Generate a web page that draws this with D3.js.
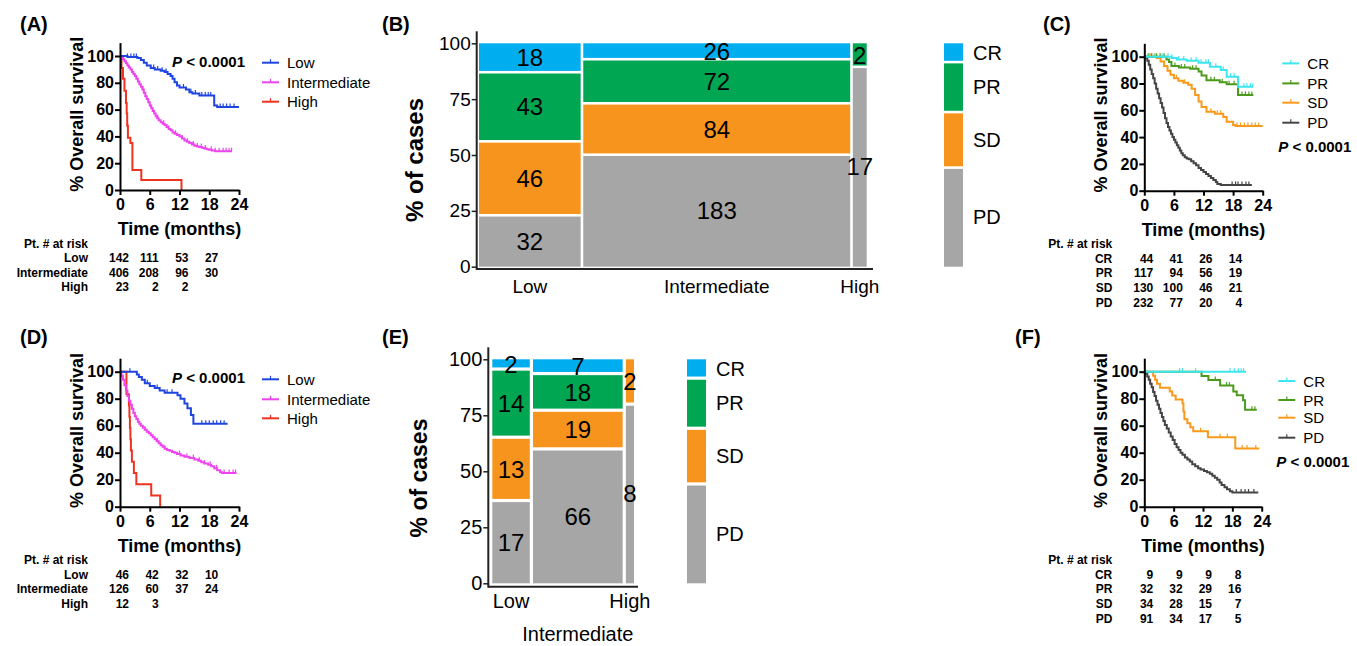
<!DOCTYPE html>
<html><head><meta charset="utf-8">
<script src="https://cdn.jsdelivr.net/npm/d3@7"></script>
<style>body{margin:0;background:#fff}svg{display:block}</style>
</head><body>
<svg id="chart" width="1357" height="646"></svg>
<script>
// ---------------- DATA ----------------
const MONTHS = [0, 6, 12, 18, 24];
const RISK_MONTHS = [0, 6, 12, 18];
const SURV_TICKS = [0, 20, 40, 60, 80, 100];
const PCT_TICKS = [0, 25, 50, 75, 100];
const RISK_GROUPS = ["Low", "Intermediate", "High"];
const RESPONSES = ["CR", "PR", "SD", "PD"];
const P_TEXT = "< 0.0001";

// Panel A: KM by risk group
const A_low = [[0,100],[1.5,99.3],[3.5,98.5],[4.2,97],[4.8,95],[5.4,93],[6.2,91],[7,90],[8.2,89],[9,88],[9.6,86.5],[10.2,85],[10.6,83],[11,80.5],[11.5,78],[12,76.5],[13.3,75],[14,73],[14.6,72],[16,70.5],[19,63],[19.6,62],[24,62]];
const A_low_cens = [1.5,2.2,2.8,3.3,6.8,7.6,8.5,9.3,12.8,14.3,15.2,16.5,17.2,17.8,18.3,20.2,20.8,21.5,22.2,23.0];
const A_int = [[0,100],[0.3,99],[0.6,97.5],[0.9,96],[1.2,94.5],[1.5,93],[1.8,91.5],[2.1,90],[2.4,88],[2.7,86.5],[3,85],[3.3,83],[3.6,81],[3.9,79],[4.2,77],[4.5,75],[4.8,72.5],[5.1,70],[5.4,68],[5.7,65.5],[6,63],[6.3,61],[6.6,59],[6.9,57],[7.2,55],[7.5,53.5],[7.8,52],[8.2,50.5],[8.6,49.5],[9,48.5],[9.4,47],[9.8,45.5],[10.2,44.5],[10.6,43],[11,42],[11.5,41],[12,40],[12.5,38.5],[13,37],[13.5,36],[14,35],[14.5,34],[15,33],[15.5,32.5],[16,32],[16.5,31.5],[17,31],[17.5,30.5],[18,30],[18.5,29.5],[19.2,29],[22.6,29]];
const A_int_cens = [4.6,6.3,7.6,8.8,9.8,11.2,12.5,13.6,14.8,15.6,16.4,17.2,18.4,19.2,20.0,20.8,21.4,22.0,22.5];
const A_high = [[0,100],[0.3,91],[0.6,83],[0.9,74],[1.2,65],[1.35,57],[1.45,48],[1.6,39],[2.1,35],[2.5,15],[4.3,7.5],[12.4,0]];
const A_high_cens = [];
const A_risk_low = [142, 111, 53, 27];
const A_risk_int = [406, 208, 96, 30];
const A_risk_high = [23, 2, 2];

// Panel B: mosaic, response by risk group
const B_CR = [18, 26, 0];
const B_PR = [43, 72, 2];
const B_SD = [46, 84, 0];
const B_PD = [32, 183, 17];

// Panel C: KM by response
const C_cr = [[0,100],[5.5,99],[6.6,98],[8.6,97],[11,95.5],[13.3,92.5],[15.5,90],[16.7,85],[19,77.5],[22.1,77.5]];
const C_cr_cens = [1.0,2.2,3.6,4.8,5.6,7.0,8.0,9.5,10.5,11.5,12.5,13.0,14.5,16,17.5,18.2,20.2,20.8,21.5,22.0];
const C_pr = [[0,100],[4.5,98],[5,96],[5.5,93],[7,92],[9.3,91],[11,89],[11.6,86],[12.6,82.5],[15.3,81],[16.7,79.5],[19,71.5],[22.1,71.5]];
const C_pr_cens = [0.8,1.5,2.5,3.2,4.0,6.2,7.5,8.2,9.8,10.5,13.5,14.2,15.8,17.2,18.2,19.8,20.5,21.2,21.8];
const C_sd = [[0,100],[2.5,99],[3.3,96.5],[4,93],[4.7,89.5],[5.3,86.5],[6,84],[6.9,82],[7.9,80.5],[8.9,79],[9.6,76],[10.3,71.5],[11,66.5],[11.6,62.5],[12.6,59],[14.3,57.5],[16,55],[16.7,51.5],[18,49],[18.5,48.3],[24,48.3]];
const C_sd_cens = [1.2,2.0,6.5,8.2,13.5,14.8,15.5,18.8,19.5,20.3,21.0,21.8,22.5,23.2];
const C_pd = [[0,100],[0.3,99],[0.6,97],[0.9,94],[1.2,90.5],[1.5,87],[1.8,84],[2.1,80],[2.4,76],[2.7,72.5],[3,69],[3.3,65.5],[3.6,62],[3.9,58],[4.2,54],[4.5,50.5],[4.8,47.5],[5.1,45],[5.4,42.5],[5.7,40],[6,38],[6.3,36],[6.6,34],[6.9,32],[7.2,30],[7.5,28],[7.8,26.5],[8.2,25],[8.6,24],[9,23.5],[9.5,22],[10,20.5],[10.5,19],[11,17],[11.5,15.5],[12,14],[12.5,12.5],[13,11],[13.5,9.5],[14,8],[14.5,6.5],[14.8,5],[15.5,4.3],[21.8,4.3]];
const C_pd_cens = [17.8,18.5,19.0,19.8,20.6,21.2];
const C_risk_cr = [44, 41, 26, 14];
const C_risk_pr = [117, 94, 56, 19];
const C_risk_sd = [130, 100, 46, 21];
const C_risk_pd = [232, 77, 20, 4];

// Panel D: KM by risk group (validation)
const D_low = [[0,100],[3.4,98],[3.8,96],[4.4,94],[5,91.5],[6,89.5],[7,88],[8,86],[9,84.5],[11.6,82.5],[12.2,80],[13,76.5],[13.6,73],[14.3,68],[14.8,61.5],[21.7,61.5]];
const D_low_cens = [2.0,5.5,7.5,9.5,10.5,16.5,17.3,18.0,18.8,19.5,20.3,21.0];
const D_int = [[0,100],[0.3,97],[0.6,94],[0.9,90],[1.2,86],[1.5,82],[1.8,78.5],[2.1,75.5],[2.4,72.5],[2.7,69.5],[3,67],[3.3,65],[3.6,63],[3.9,61.5],[4.2,60],[4.6,58.5],[5,57],[5.4,55.5],[5.8,54.5],[6.2,53],[6.6,51.5],[7,50],[7.4,48.5],[7.8,47],[8.2,45.5],[8.6,44.5],[9,43],[9.5,42],[10,41.5],[10.5,40.5],[11,40],[11.5,39],[12.2,38],[13,37],[14,36],[15,35],[15.8,34],[16.4,33],[17,32],[17.8,31],[18.4,30],[19,28.5],[19.6,27],[20.2,25.5],[20.6,25],[23.5,25]];
const D_int_cens = [5.0,7.5,9.0,12.0,13.5,14.8,16.0,17.0,18.2,19.5,21.0,22.0,22.8,23.3];
const D_high = [[0,100],[1.3,83.3],[1.8,75],[1.9,66.7],[2.0,58.3],[2.1,50],[2.2,41.7],[2.4,33.3],[2.8,25],[3.3,16.7],[6.3,8.3],[8.1,0]];
const D_high_cens = [];
const D_risk_low = [46, 42, 32, 10];
const D_risk_int = [126, 60, 37, 24];
const D_risk_high = [12, 3];

// Panel E: mosaic (validation)
const E_CR = [2, 7, 0];
const E_PR = [14, 18, 0];
const E_SD = [13, 19, 2];
const E_PD = [17, 66, 8];

// Panel F: KM by response (validation)
const F_cr = [[0,100],[20.8,100]];
const F_cr_cens = [7.2,7.8,10.5,17.5,18.4,19.2,19.8,20.3];
const F_pr = [[0,100],[11.7,96.9],[13.1,93.8],[15.5,89.7],[18.2,85.4],[18.9,82.5],[20.2,78.8],[20.6,71.8],[23,71.8]];
const F_pr_cens = [14.5,16.8,17.4,22.0,22.6];
const F_sd = [[0,100],[1.8,97],[2.2,94],[2.6,91],[3.2,88.2],[5.2,85.3],[5.7,82.4],[6.4,79.4],[7.8,76.5],[8,70.6],[8.2,64.7],[8.8,61.8],[9.4,58.8],[10,55.9],[13,51.5],[18.6,43.2],[23.5,43.2]];
const F_sd_cens = [11.5,15.5,17.0,20.0,21.0,22.8];
const F_pd = [[0,100],[0.3,98.5],[0.6,96.5],[0.9,94],[1.2,91],[1.5,88.5],[1.8,85],[2.1,82],[2.4,78.5],[2.7,75.5],[3,72.5],[3.3,69.5],[3.6,66.5],[3.9,63.5],[4.2,60.5],[4.6,58],[5,55],[5.4,52],[5.8,49.5],[6.2,46.5],[6.6,44],[7,42],[7.4,40],[7.8,38.5],[8.3,36.5],[8.8,35],[9.3,33.5],[9.8,31.5],[10.4,30],[11,28.5],[11.5,27.5],[12.2,26.5],[12.8,25.5],[13.4,24.5],[13.9,23],[14.4,21.5],[14.9,20],[15.4,18],[15.8,16],[16.4,14.5],[16.9,13],[17.5,11.5],[18,10.5],[23.3,10.5]];
const F_pd_cens = [18.8,19.8,20.6,21.3,22.4];
const F_risk_cr = [9, 9, 9, 8];
const F_risk_pr = [32, 32, 29, 16];
const F_risk_sd = [34, 28, 15, 7];
const F_risk_pd = [91, 34, 17, 5];

// ---------------- STYLE ----------------
const FONT = '"Liberation Sans", Arial, Helvetica, sans-serif';
const KM_COL = {Low: "#1f45e0", Intermediate: "#ee44ee", High: "#ee3322",
                CR: "#3de6ee", PR: "#4c9a1c", SD: "#f99a1c", PD: "#444444"};
const MOS_COL = {CR: "#00aeef", PR: "#00a651", SD: "#f7941d", PD: "#a6a6a6"};

const svg = d3.select("#chart");

function stepVal(pts, t) {
  let v = pts[0][1];
  for (const p of pts) if (p[0] <= t) v = p[1];
  return v;
}
function txt(g, x, y, s, size, weight, anchor) {
  return g.append("text").attr("x", x).attr("y", y).text(s)
    .attr("font-family", FONT).attr("font-size", size)
    .attr("font-weight", weight || "normal").attr("text-anchor", anchor || "start").attr("fill", "#000");
}

function kmPanel(c) {
  const g = svg.append("g");
  const x = d3.scaleLinear().domain([0, 24]).range([c.left, c.right]);
  const y = d3.scaleLinear().domain([0, 100]).range([c.y0, c.y100]);
  const yAx = d3.scaleLinear().domain([0, 110]).range([y(0), y(110)]);
  const line = d3.line().x(d => x(d[0])).y(d => y(d[1])).curve(d3.curveStepAfter);

  c.series.slice().reverse().forEach(s => {
    g.append("path").attr("d", line(s.pts)).attr("fill", "none")
      .attr("stroke", KM_COL[s.name]).attr("stroke-width", 2);
    s.cens.forEach(t => {
      const v = stepVal(s.pts, t);
      g.append("line").attr("x1", x(t)).attr("x2", x(t))
        .attr("y1", y(v) - 3.5).attr("y2", y(v))
        .attr("stroke", KM_COL[s.name]).attr("stroke-width", 1.2);
    });
  });

  const ya = g.append("g").attr("transform", `translate(${c.left},0)`)
    .call(d3.axisLeft(yAx).tickValues(SURV_TICKS).tickSize(5).tickSizeOuter(0).tickPadding(1));
  const xa = g.append("g").attr("transform", `translate(0,${c.y0})`)
    .call(d3.axisBottom(x).tickValues(MONTHS).tickSize(5).tickSizeOuter(0).tickPadding(4));
  [ya, xa].forEach(a => {
    a.selectAll("path,line").attr("stroke", "#000").attr("stroke-width", 2);
    a.selectAll("text").attr("font-family", FONT).attr("font-size", 16)
      .attr("font-weight", "bold").attr("fill", "#000");
  });

  txt(g, (c.left + c.right) / 2, c.y0 + 45, "Time (months)", 18, "bold", "middle");
  txt(g, 0, 0, "% Overall survival", 18, "bold", "middle")
    .attr("transform", `translate(${c.left - 37},${(y(0) + y(110)) / 2 - 2}) rotate(-90)`);

  // legend
  c.series.forEach((s, i) => {
    const ly = c.y100 + c.legDy[i];
    const x1 = c.left + c.legX, x2 = x1 + 17;
    g.append("line").attr("x1", x1).attr("x2", x2).attr("y1", ly).attr("y2", ly)
      .attr("stroke", KM_COL[s.name]).attr("stroke-width", 2);
    g.append("line").attr("x1", (x1 + x2) / 2).attr("x2", (x1 + x2) / 2).attr("y1", ly - 3.5).attr("y2", ly)
      .attr("stroke", KM_COL[s.name]).attr("stroke-width", 1.2);
    txt(g, x2 + 8, ly + 5.5, s.name, 15, "normal");
  });
  const pt = txt(g, c.left + c.pX, c.y100 + c.pY + 5.5, "", 15, "bold");
  pt.append("tspan").attr("font-style", "italic").text("P");
  pt.append("tspan").text(" " + P_TEXT);

  // risk table
  const rx = c.left - 32;
  txt(g, rx, c.y0 + 57.5, "Pt. # at risk", 12, "bold", "end");
  c.risk.forEach((r, i) => {
    const ry = c.y0 + 72 + i * 14.6;
    txt(g, rx, ry, r.label, 12, "bold", "end");
    r.vals.forEach((v, j) => txt(g, x(RISK_MONTHS[j]) + 9, ry, String(v), 12, "bold", "end"));
  });
  txt(g, c.titleX, c.titleY, c.title, 20, "bold");
}

function mosaicPanel(c) {
  const g = svg.append("g");
  const y = d3.scaleLinear().domain([0, 100]).range([c.y0, c.y100]);
  const counts = c.counts;
  const order = ["PD", "SD", "PR", "CR"];
  const totals = RISK_GROUPS.map((_, i) => d3.sum(RESPONSES, r => counts[r][i]));
  const grand = d3.sum(totals);
  const n = totals.length;
  const w = d3.scaleLinear().domain([0, grand]).range([0, c.x1 - c.x0 - c.gap * (n - 1)]);
  let cx = c.x0;
  const cols = totals.map(t => { const o = {x: cx, w: w(t)}; cx += w(t) + c.gap; return o; });
  const h = c.gap / 2;

  cols.forEach((col, i) => {
    let cum = 0;
    order.forEach(r => {
      const cnt = counts[r][i];
      if (!cnt) return;
      const p = cnt / totals[i] * 100;
      const yb = y(cum), yt = y(cum + p);
      const inB = cum > 0.001 ? h : 0, inT = (cum + p) < 99.999 ? h : 0;
      g.append("rect").attr("x", col.x).attr("y", yt + inT).attr("width", col.w)
        .attr("height", yb - yt - inB - inT).attr("fill", MOS_COL[r]);
      txt(g, col.x + col.w / 2, (yb + yt) / 2, String(cnt), 24, "normal", "middle").attr("dy", "0.36em");
      cum += p;
    });
    txt(g, col.x + col.w / 2, c.catY + (c.catRow[i] ? c.catRowDy : 0), RISK_GROUPS[i], c.catSize, "normal", "middle");
  });

  // legend: overall distribution of responses
  const lt = d3.sum(RESPONSES, r => d3.sum(c.legCounts[r]));
  let cum = 0;
  order.forEach(r => {
    const p = d3.sum(c.legCounts[r]) / lt * 100;
    const yb = y(cum), yt = y(cum + p);
    const inB = cum > 0.001 ? h : 0, inT = (cum + p) < 99.999 ? h : 0;
    g.append("rect").attr("x", c.legX).attr("y", yt + inT).attr("width", 19)
      .attr("height", yb - yt - inB - inT).attr("fill", MOS_COL[r]);
    txt(g, c.legX + 29, (yb + yt) / 2, r, 20, "normal").attr("dy", "0.36em");
    cum += p;
  });

  // axes
  const ya = g.append("g").attr("transform", `translate(${c.axisX},0)`)
    .call(d3.axisLeft(y).tickValues(PCT_TICKS).tickSize(5).tickSizeOuter(0).tickPadding(1));
  ya.select(".domain").remove();
  ya.selectAll("line").attr("stroke", "#222").attr("stroke-width", 1.5);
  ya.selectAll("text").attr("font-family", FONT).attr("font-size", c.tickSize).attr("fill", "#000");
  g.append("line").attr("x1", c.axisX).attr("x2", c.axisX).attr("y1", y(100) - 12).attr("y2", c.xAxisY + 1)
    .attr("stroke", "#222").attr("stroke-width", 2);
  g.append("line").attr("x1", c.axisX).attr("x2", c.xAxisEnd).attr("y1", c.xAxisY).attr("y2", c.xAxisY)
    .attr("stroke", "#222").attr("stroke-width", 2);

  txt(g, 0, 0, "% of cases", c.ylabSize, "bold", "middle")
    .attr("transform", `translate(${c.ylabX},${c.ylabY}) rotate(-90)`);
  txt(g, c.titleX, c.titleY, c.title, 20, "bold");
}

// ---------------- PANELS ----------------
kmPanel({
  title: "(A)", titleX: 20, titleY: 31,
  left: 120, right: 239, y0: 190, y100: 56,
  series: [
    {name: "Low", pts: A_low, cens: A_low_cens},
    {name: "Intermediate", pts: A_int, cens: A_int_cens},
    {name: "High", pts: A_high, cens: A_high_cens}],
  legX: 142, legDy: [6.7, 26.3, 45.7], pX: 52, pY: 5.7,
  risk: [{label: "Low", vals: A_risk_low}, {label: "Intermediate", vals: A_risk_int}, {label: "High", vals: A_risk_high}]
});

mosaicPanel({
  title: "(B)", titleX: 382, titleY: 31,
  counts: {CR: B_CR, PR: B_PR, SD: B_SD, PD: B_PD},
  legCounts: {CR: B_CR, PR: B_PR, SD: B_SD, PD: B_PD},
  axisX: 476.7, x0: 479, x1: 866.7, gap: 2.6, y0: 266.7, y100: 43.3,
  xAxisY: 269, xAxisEnd: 873, tickSize: 19,
  catY: 293, catRow: [0, 0, 0], catRowDy: 0, catSize: 19,
  legX: 944, ylabX: 423, ylabY: 160, ylabSize: 24
});

kmPanel({
  title: "(C)", titleX: 1043, titleY: 31,
  left: 1144.3, right: 1262.7, y0: 190.7, y100: 56.7,
  series: [
    {name: "CR", pts: C_cr, cens: C_cr_cens},
    {name: "PR", pts: C_pr, cens: C_pr_cens},
    {name: "SD", pts: C_sd, cens: C_sd_cens},
    {name: "PD", pts: C_pd, cens: C_pd_cens}],
  legX: 138, legDy: [6.7, 26.7, 46, 66], pX: 134, pY: 90,
  risk: [{label: "CR", vals: C_risk_cr}, {label: "PR", vals: C_risk_pr}, {label: "SD", vals: C_risk_sd}, {label: "PD", vals: C_risk_pd}]
});

kmPanel({
  title: "(D)", titleX: 20, titleY: 344,
  left: 120, right: 239, y0: 506.7, y100: 371.7,
  series: [
    {name: "Low", pts: D_low, cens: D_low_cens},
    {name: "Intermediate", pts: D_int, cens: D_int_cens},
    {name: "High", pts: D_high, cens: D_high_cens}],
  legX: 142, legDy: [7.6, 27.6, 46.6], pX: 52, pY: 5.6,
  risk: [{label: "Low", vals: D_risk_low}, {label: "Intermediate", vals: D_risk_int}, {label: "High", vals: D_risk_high}]
});

mosaicPanel({
  title: "(E)", titleX: 382, titleY: 344,
  counts: {CR: E_CR, PR: E_PR, SD: E_SD, PD: E_PD},
  legCounts: {CR: B_CR, PR: B_PR, SD: B_SD, PD: B_PD},
  axisX: 488.3, x0: 492.3, x1: 634, gap: 3.2, y0: 583.3, y100: 359.3,
  xAxisY: 586.7, xAxisEnd: 638, tickSize: 20,
  catY: 608, catRow: [0, 1, 0], catRowDy: 33, catSize: 20,
  legX: 687, ylabX: 427, ylabY: 478, ylabSize: 23
});

kmPanel({
  title: "(F)", titleX: 1015, titleY: 344,
  left: 1144.3, right: 1261.7, y0: 506.7, y100: 371.7,
  series: [
    {name: "CR", pts: F_cr, cens: F_cr_cens},
    {name: "PR", pts: F_pr, cens: F_pr_cens},
    {name: "SD", pts: F_sd, cens: F_sd_cens},
    {name: "PD", pts: F_pd, cens: F_pd_cens}],
  legX: 134, legDy: [9.3, 28.3, 46, 66], pX: 132, pY: 89.3,
  risk: [{label: "CR", vals: F_risk_cr}, {label: "PR", vals: F_risk_pr}, {label: "SD", vals: F_risk_sd}, {label: "PD", vals: F_risk_pd}]
});
</script>
</body></html>
